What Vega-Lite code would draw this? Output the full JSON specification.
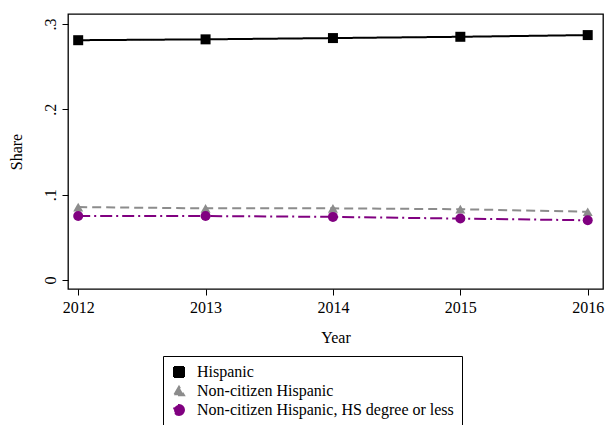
{
  "$schema": "https://vega.github.io/schema/vega-lite/v6.json",
  "autosize": "none",
  "width": 535,
  "height": 275,
  "padding": {"left": 68, "top": 14, "right": 2, "bottom": 136},
  "background": "white",
  "config": {
    "font": "Liberation Serif",
    "view": {"stroke": "black", "strokeWidth": 1.3},
    "axis": {"grid": false, "domain": false, "tickColor": "black", "tickSize": 6, "labelColor": "black", "titleColor": "black", "labelFont": "Liberation Serif", "titleFont": "Liberation Serif", "labelFontSize": 16, "titleFontSize": 16, "titleFontWeight": "normal"}
  },
  "data": {"values": [
    {"year": 2012, "group": "Hispanic", "share": 0.281},
    {"year": 2013, "group": "Hispanic", "share": 0.282},
    {"year": 2014, "group": "Hispanic", "share": 0.2835},
    {"year": 2015, "group": "Hispanic", "share": 0.285},
    {"year": 2016, "group": "Hispanic", "share": 0.287},
    {"year": 2012, "group": "Non-citizen Hispanic", "share": 0.0855},
    {"year": 2013, "group": "Non-citizen Hispanic", "share": 0.084},
    {"year": 2014, "group": "Non-citizen Hispanic", "share": 0.084},
    {"year": 2015, "group": "Non-citizen Hispanic", "share": 0.083},
    {"year": 2016, "group": "Non-citizen Hispanic", "share": 0.080},
    {"year": 2012, "group": "Non-citizen Hispanic, HS degree or less", "share": 0.075},
    {"year": 2013, "group": "Non-citizen Hispanic, HS degree or less", "share": 0.075},
    {"year": 2014, "group": "Non-citizen Hispanic, HS degree or less", "share": 0.074},
    {"year": 2015, "group": "Non-citizen Hispanic, HS degree or less", "share": 0.072},
    {"year": 2016, "group": "Non-citizen Hispanic, HS degree or less", "share": 0.070}
  ]},
  "encoding": {
    "x": {"field": "year", "type": "quantitative", "scale": {"domain": [2011.92, 2016.12], "nice": false, "zero": false},
      "axis": {"values": [2012, 2013, 2014, 2015, 2016], "format": "d", "title": "Year", "titlePadding": 14, "labelPadding": 4}},
    "y": {"field": "share", "type": "quantitative", "scale": {"domain": [-0.0105, 0.3117], "nice": false, "zero": false},
      "axis": {"values": [0, 0.1, 0.2, 0.3], "labelAngle": -90, "labelAlign": "center", "labelBaseline": "bottom", "labelPadding": 4,
        "labelExpr": "datum.value == 0 ? '0' : replace(format(datum.value, '.1f'), '0.', '.')", "title": "Share", "titlePadding": 18}},
    "color": {"field": "group", "type": "nominal",
      "scale": {"domain": ["Hispanic", "Non-citizen Hispanic", "Non-citizen Hispanic, HS degree or less"], "range": ["#000000", "#8c8c8c", "#800080"]},
      "legend": {"title": null, "orient": "none", "legendX": 95, "legendY": 342, "strokeColor": "black", "padding": 8, "labelFontSize": 16, "labelFont": "Liberation Serif", "labelColor": "black", "labelLimit": 500, "symbolSize": 100, "rowPadding": 1, "labelOffset": 10, "symbolStrokeWidth": 2}}
  },
  "layer": [
    {"mark": {"type": "line", "strokeWidth": 2},
     "encoding": {"strokeDash": {"field": "group", "type": "nominal",
       "scale": {"domain": ["Hispanic", "Non-citizen Hispanic", "Non-citizen Hispanic, HS degree or less"], "range": [[1, 0], [9, 5], [12, 4, 2, 4]]},
       "legend": {"title": null, "orient": "none", "legendX": 95, "legendY": 342, "labelLimit": 500}}}},
    {"mark": {"type": "point", "filled": true, "opacity": 1, "size": 100},
     "encoding": {"shape": {"field": "group", "type": "nominal",
       "scale": {"domain": ["Hispanic", "Non-citizen Hispanic", "Non-citizen Hispanic, HS degree or less"], "range": ["square", "triangle-up", "circle"]},
       "legend": {"title": null, "orient": "none", "legendX": 95, "legendY": 342, "labelLimit": 500}}}}
  ]
}
